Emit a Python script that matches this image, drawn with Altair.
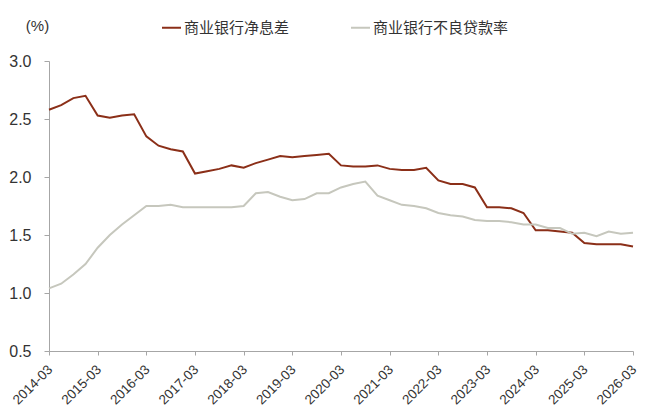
import altair as alt
import pandas as pd

years = list(range(2014, 2027))
months = ["03", "06", "09", "12"]
quarters = [f"{y}-{m}" for y in years for m in months][:49]
tick_labels = [f"{y}-03" for y in years]

nim = [2.58, 2.62, 2.68, 2.70,
       2.53, 2.51, 2.53, 2.54,
       2.35, 2.27, 2.24, 2.22,
       2.03, 2.05, 2.07, 2.10,
       2.08, 2.12, 2.15, 2.18,
       2.17, 2.18, 2.19, 2.20,
       2.10, 2.09, 2.09, 2.10,
       2.07, 2.06, 2.06, 2.08,
       1.97, 1.94, 1.94, 1.91,
       1.74, 1.74, 1.73, 1.69,
       1.54, 1.54, 1.53, 1.52,
       1.43, 1.42, 1.42, 1.42,
       1.40]

npl = [1.04, 1.08, 1.16, 1.25,
       1.39, 1.50, 1.59, 1.67,
       1.75, 1.75, 1.76, 1.74,
       1.74, 1.74, 1.74, 1.74,
       1.75, 1.86, 1.87, 1.83,
       1.80, 1.81, 1.86, 1.86,
       1.91, 1.94, 1.96, 1.84,
       1.80, 1.76, 1.75, 1.73,
       1.69, 1.67, 1.66, 1.63,
       1.62, 1.62, 1.61, 1.59,
       1.59, 1.56, 1.56, 1.51,
       1.52, 1.49, 1.53, 1.51,
       1.52]

series_names = ["商业银行净息差", "商业银行不良贷款率"]
series_colors = ["#8B2F18", "#C6C7BD"]

rows = []
for q, v in zip(quarters, nim):
    rows.append({"quarter": q, "value": v, "series": series_names[0]})
for q, v in zip(quarters, npl):
    rows.append({"quarter": q, "value": v, "series": series_names[1]})
df = pd.DataFrame(rows)

FONT = "Liberation Sans, Noto Sans CJK SC, sans-serif"

chart = alt.Chart(df).mark_line(strokeWidth=2).encode(
    x=alt.X("quarter:O", sort=quarters,
            scale=alt.Scale(type="point", padding=0),
            axis=alt.Axis(values=tick_labels, title=None, labelAngle=-45,
                          labelAlign="right", labelBaseline="middle",
                          labelPadding=12, labelOffset=1, tickSize=4,
                          labelFontSize=13.5, labelColor="#333333",
                          domainColor="#A6A6A6", tickColor="#A6A6A6",
                          labelFont=FONT, labelOverlap=False)),
    y=alt.Y("value:Q",
            scale=alt.Scale(domain=[0.5, 3.0], nice=False, zero=False),
            axis=alt.Axis(values=[0.5, 1.0, 1.5, 2.0, 2.5, 3.0], format=".1f",
                          title="(%)", titleAngle=0, titleX=-12, titleY=-36,
                          titleAlign="center", titleBaseline="middle",
                          titleFontSize=15, titleFontWeight="normal",
                          titleColor="#333333", titleFont=FONT,
                          grid=False, tickSize=5, labelPadding=13,
                          labelFontSize=16, labelColor="#333333",
                          labelFont=FONT,
                          domainColor="#A6A6A6", tickColor="#A6A6A6")),
    color=alt.Color("series:N", sort=series_names,
                    scale=alt.Scale(domain=series_names, range=series_colors),
                    legend=alt.Legend(title=None, orient="none",
                                      legendX=112, legendY=-44,
                                      direction="horizontal",
                                      symbolType="stroke", symbolSize=361,
                                      symbolStrokeWidth=2, labelOffset=2,
                                      columnPadding=57, labelFontSize=15,
                                      labelColor="#333333", labelFont=FONT,
                                      labelLimit=300)),
).properties(
    width=584, height=290,
    autosize=alt.AutoSizeParams(type="none"),
    padding={"left": 41, "top": 53, "right": 6, "bottom": 59},
).configure(font=FONT, background="white").configure_view(stroke=None)

chart.save("out.html", embed_options={"renderer": "svg", "actions": False})
